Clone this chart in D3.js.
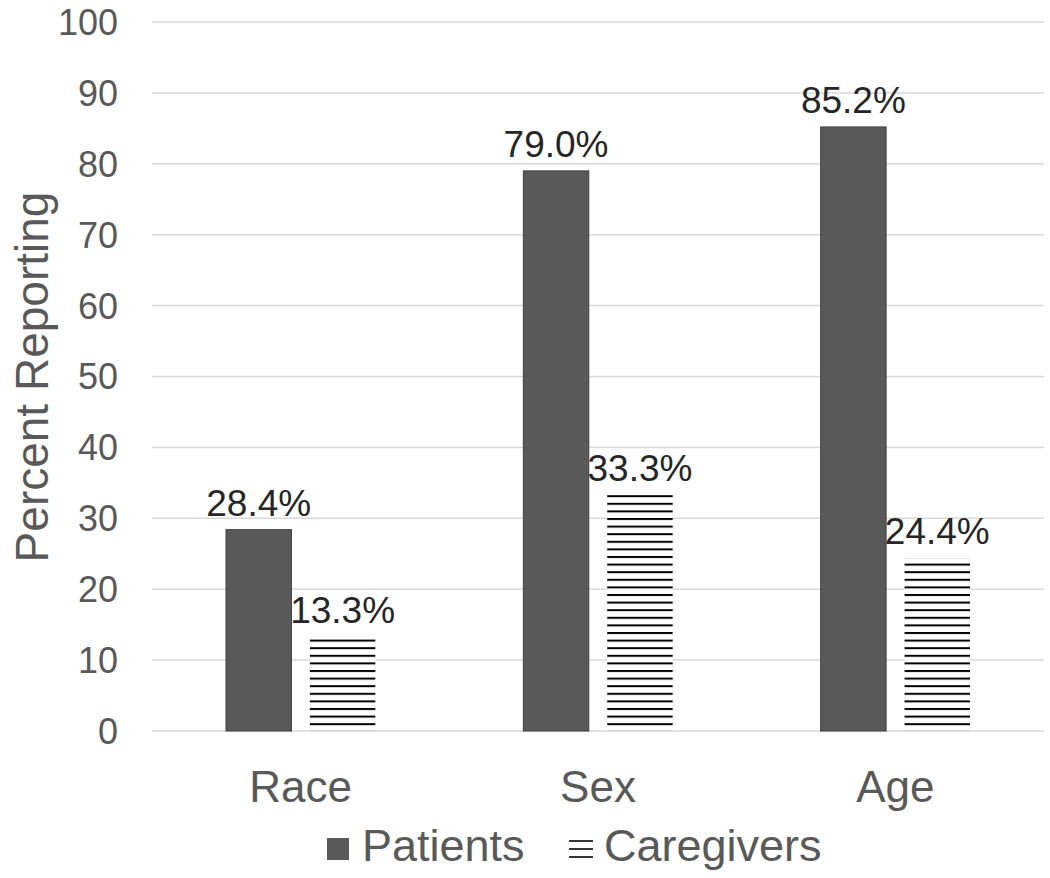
<!DOCTYPE html>
<html>
<head>
<meta charset="utf-8">
<script src="https://cdn.jsdelivr.net/npm/d3@7"></script>
<style>
  body { margin: 0; background: #fff; }
  text { font-family: "Liberation Sans", Arial, sans-serif; }
</style>
</head>
<body>
<svg id="chart" width="1050" height="878"></svg>
<script>
const categories = ["Race", "Sex", "Age"];
const seriesNames = ["Patients", "Caregivers"];
const patients = [28.4, 79.0, 85.2];
const caregivers = [13.3, 33.3, 24.4];
const yTicks = [0, 10, 20, 30, 40, 50, 60, 70, 80, 90, 100];

const margin = { top: 22, right: 6, bottom: 147, left: 152 },
    width = 1050 - margin.left - margin.right,
    height = 878 - margin.top - margin.bottom;

const svg = d3.select("#chart");

const defs = svg.append("defs");
const pat = defs.append("pattern")
    .attr("id", "hatch")
    .attr("patternUnits", "userSpaceOnUse")
    .attr("x", 0)
    .attr("y", 2)
    .attr("width", 8)
    .attr("height", 7.6);
pat.append("rect").attr("width", 8).attr("height", 7.6).attr("fill", "#fff");
pat.append("rect").attr("x", 0).attr("y", 0).attr("width", 8).attr("height", 2).attr("fill", "#000");

const g = svg.append("g")
    .attr("transform", `translate(${margin.left},${margin.top})`);

const x0 = d3.scaleBand()
    .domain(categories)
    .range([0, width])
    .paddingInner(0)
    .paddingOuter(0);

const x1 = d3.scaleBand()
    .domain(seriesNames)
    .range([74, x0.bandwidth() - 74])
    .paddingInner(0.22);

const y = d3.scaleLinear()
    .domain([0, 100])
    .range([height, 0]);

// gridlines
g.selectAll(".grid")
    .data(yTicks)
    .enter()
    .append("line")
    .attr("x1", 0)
    .attr("x2", width)
    .attr("y1", d => y(d))
    .attr("y2", d => y(d))
    .attr("stroke", "#d9d9d9")
    .attr("stroke-width", 1.5);

// y tick labels
g.selectAll(".ytick")
    .data(yTicks)
    .enter()
    .append("text")
    .attr("x", -34)
    .attr("y", d => y(d))
    .attr("dy", "0.36em")
    .attr("text-anchor", "end")
    .attr("font-size", 36)
    .attr("fill", "#595959")
    .text(d => d);

const rows = categories.map((c, i) => ({ cat: c, values: [patients[i], caregivers[i]] }));

const groups = g.selectAll(".group")
    .data(rows)
    .enter()
    .append("g")
    .attr("transform", d => `translate(${x0(d.cat)},0)`);

groups.selectAll("rect")
    .data(d => d.values.map((v, j) => ({ name: seriesNames[j], value: v })))
    .enter()
    .append("rect")
    .attr("x", d => x1(d.name))
    .attr("y", d => y(d.value))
    .attr("width", x1.bandwidth())
    .attr("height", d => height - y(d.value))
    .attr("fill", d => d.name === "Patients" ? "#595959" : "url(#hatch)")
    .attr("stroke", d => d.name === "Patients" ? "#404040" : "none")
    .attr("stroke-width", 1);

groups.selectAll(".label")
    .data(d => d.values.map((v, j) => ({ name: seriesNames[j], value: v })))
    .enter()
    .append("text")
    .attr("x", d => x1(d.name) + x1.bandwidth() / 2)
    .attr("y", d => y(d.value) - 14)
    .attr("text-anchor", "middle")
    .attr("font-size", 37)
    .attr("fill", "#262626")
    .text(d => d.value.toFixed(1) + "%");

// x category labels
g.selectAll(".xlabel")
    .data(categories)
    .enter()
    .append("text")
    .attr("x", d => x0(d) + x0.bandwidth() / 2)
    .attr("y", height + 71)
    .attr("text-anchor", "middle")
    .attr("font-size", 44)
    .attr("fill", "#595959")
    .text(d => d);

// y axis title
svg.append("text")
    .attr("transform", "rotate(-90)")
    .attr("x", -377)
    .attr("y", 48)
    .attr("text-anchor", "middle")
    .attr("font-size", 46)
    .attr("fill", "#595959")
    .text("Percent Reporting");

// legend
const legend = svg.append("g");
legend.append("rect")
    .attr("x", 327).attr("y", 838)
    .attr("width", 22).attr("height", 22)
    .attr("fill", "#595959");
legend.append("text")
    .attr("x", 362).attr("y", 861)
    .attr("font-size", 45)
    .attr("fill", "#595959")
    .text(seriesNames[0]);
legend.selectAll(".hl")
    .data([841, 849, 857])
    .enter()
    .append("line")
    .attr("x1", 569).attr("x2", 593)
    .attr("y1", d => d).attr("y2", d => d)
    .attr("stroke", "#000")
    .attr("stroke-width", 1.6);
legend.append("text")
    .attr("x", 604).attr("y", 861)
    .attr("font-size", 45)
    .attr("fill", "#595959")
    .text(seriesNames[1]);
</script>
</body>
</html>
